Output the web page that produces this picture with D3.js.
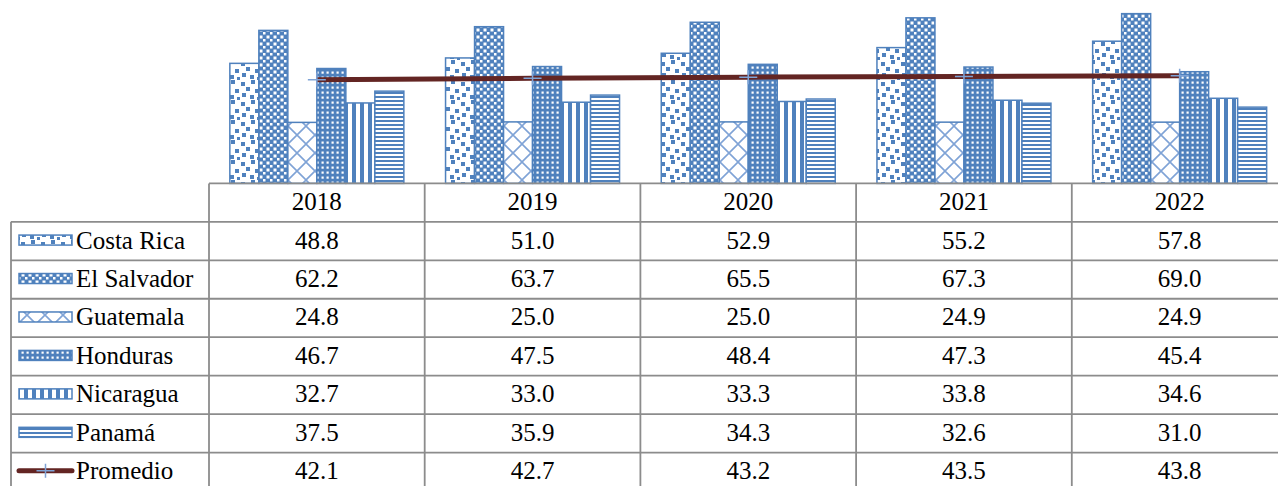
<!DOCTYPE html>
<meta charset="utf-8">
<style>
  body { margin: 0; background: #fff; }
  svg { display: block; }
  text { font-family: "Liberation Serif", "Times New Roman", Tinos, "DejaVu Serif", serif; }
</style>
<body>
<script src="https://cdn.jsdelivr.net/npm/d3@7"></script>
<script>
var years = ["2018", "2019", "2020", "2021", "2022"];
var countries = ["Costa Rica", "El Salvador", "Guatemala", "Honduras", "Nicaragua", "Panamá"];
var costaRica  = [48.8, 51.0, 52.9, 55.2, 57.8];
var elSalvador = [62.2, 63.7, 65.5, 67.3, 69.0];
var guatemala  = [24.8, 25.0, 25.0, 24.9, 24.9];
var honduras   = [46.7, 47.5, 48.4, 47.3, 45.4];
var nicaragua  = [32.7, 33.0, 33.3, 33.8, 34.6];
var panama     = [37.5, 35.9, 34.3, 32.6, 31.0];
var promedio   = [42.1, 42.7, 43.2, 43.5, 43.8];
var seriesLabel = "Promedio";

var barSeries = [costaRica, elSalvador, guatemala, honduras, nicaragua, panama];

var width = 1278, height = 486;
var blue = "#4f81bd";
var gridColor = "#8c8c8c";
var lineColor = "#632523";
var fontSize = 25;

var plotLeft = 209, plotRight = 1287.5;
var baseY = 183.4;
var rowH = 38.45;
var labelLeft = 11;

var svg = d3.select("body").append("svg")
  .attr("width", width)
  .attr("height", height);

// patterns
var defs = svg.append("defs");
function pat(id, w, h) {
  var p = defs.append("pattern")
    .attr("id", id)
    .attr("patternUnits", "userSpaceOnUse")
    .attr("width", w).attr("height", h);
  p.append("rect").attr("width", w).attr("height", h).attr("fill", "#fff");
  return p;
}
// large confetti
var p0 = pat("p0", 20, 20);
[[1,2],[11,0],[6,7],[15,9],[2,13],[10,15],[17,17]].forEach(function(c) {
  p0.append("rect").attr("x", c[0]).attr("y", c[1]).attr("width", 4).attr("height", 4).attr("fill", blue);
});
// checker
var p1 = pat("p1", 7, 7);
p1.append("rect").attr("width", 7).attr("height", 7).attr("fill", blue);
p1.append("rect").attr("x", 0.5).attr("y", 0.5).attr("width", 3).attr("height", 3).attr("fill", "#fff");
p1.append("rect").attr("x", 4).attr("y", 4).attr("width", 2.5).attr("height", 2.5).attr("fill", "#fff");
// outlined diamond
var p2 = pat("p2", 18, 18);
p2.append("path").attr("d", "M0,0L18,18M18,0L0,18M-9,9L0,18M9,-9L18,0")
  .attr("stroke", "#7fa3d6").attr("stroke-width", 1.6).attr("fill", "none");
// small grid of dots
var p3 = pat("p3", 5, 5);
p3.append("rect").attr("width", 5).attr("height", 5).attr("fill", blue);
p3.append("rect").attr("x", 1.5).attr("y", 1.5).attr("width", 2.2).attr("height", 2.2).attr("fill", "#fff");
// vertical stripes
var p4 = pat("p4", 8, 8);
p4.append("rect").attr("x", 0).attr("width", 4).attr("height", 8).attr("fill", blue);
// horizontal stripes
var p5 = pat("p5", 4, 4);
p5.append("rect").attr("y", 0).attr("width", 4).attr("height", 2).attr("fill", blue);

var fills = ["url(#p0)", "url(#p1)", "url(#p2)", "url(#p3)", "url(#p4)", "url(#p5)"];

// scales
var x0 = d3.scaleBand().domain(years).range([plotLeft, plotRight]);
var groupW = 174;
var x1 = d3.scaleBand().domain(countries)
  .range([(x0.bandwidth() - groupW) / 2, (x0.bandwidth() + groupW) / 2]);
var y = d3.scaleLinear().domain([0, 80]).range([baseY, baseY - 80 * 2.46]);

// bars
barSeries.forEach(function(vals, si) {
  svg.append("g").selectAll("rect")
    .data(vals)
    .enter()
    .append("rect")
    .attr("x", function(d, i) { return x0(years[i]) + x1(countries[si]); })
    .attr("y", function(d) { return y(d); })
    .attr("width", x1.bandwidth())
    .attr("height", function(d) { return y(0) - y(d); })
    .attr("fill", fills[si])
    .attr("stroke", blue)
    .attr("stroke-width", 1.5);
});

// promedio line
var line = d3.line()
  .x(function(d, i) { return x0(years[i]) + x0.bandwidth() / 2; })
  .y(function(d) { return y(d); });
svg.append("path")
  .datum(promedio)
  .attr("d", line)
  .attr("fill", "none")
  .attr("stroke", lineColor)
  .attr("stroke-width", 5);

function cross(g, cx, cy) {
  g.append("path")
    .attr("d", "M" + (cx - 9) + "," + cy + "H" + (cx + 9) + "M" + cx + "," + (cy - 7) + "V" + (cy + 7))
    .attr("stroke", "#7fa3d6")
    .attr("stroke-width", 1.5)
    .attr("fill", "none");
}
var mk = svg.append("g");
promedio.forEach(function(d, i) { cross(mk, x0(years[i]) + x0.bandwidth() / 2, y(d)); });

// data table
var rows = countries.concat([seriesLabel]);
var tableVals = barSeries.concat([promedio]);
var tg = svg.append("g");

function hline(x1_, x2_, yy) {
  tg.append("line").attr("x1", x1_).attr("x2", x2_).attr("y1", yy).attr("y2", yy)
    .attr("stroke", gridColor).attr("stroke-width", 1.8);
}
function vline(xx, y1_, y2_) {
  tg.append("line").attr("x1", xx).attr("x2", xx).attr("y1", y1_).attr("y2", y2_)
    .attr("stroke", gridColor).attr("stroke-width", 1.8);
}

hline(plotLeft, width, baseY);
for (var r = 1; r <= rows.length + 1; r++) hline(labelLeft, width, baseY + r * rowH);
vline(labelLeft, baseY + rowH, height + 10);
years.forEach(function(yr) { vline(x0(yr), baseY, height + 10); });

// header years
tg.selectAll("text.yr")
  .data(years)
  .enter()
  .append("text")
  .attr("class", "yr")
  .attr("x", function(d) { return x0(d) + x0.bandwidth() / 2; })
  .attr("y", baseY + rowH / 2 - 1)
  .attr("text-anchor", "middle")
  .attr("dominant-baseline", "central")
  .attr("font-size", fontSize + "px")
  .attr("fill", "#000")
  .text(function(d) { return d; });

// row labels and values
rows.forEach(function(name, ri) {
  var cy = baseY + (ri + 1.5) * rowH - 1;
  var sw = tg.append("g");
  if (ri < countries.length) {
    sw.append("rect")
      .attr("x", 19).attr("y", cy - 5).attr("width", 53).attr("height", 10)
      .attr("fill", fills[ri]).attr("stroke", blue).attr("stroke-width", 1.5);
  } else {
    sw.append("line").attr("x1", 19).attr("x2", 72).attr("y1", cy).attr("y2", cy)
      .attr("stroke", lineColor).attr("stroke-width", 5).attr("stroke-linecap", "round");
    cross(sw, 45.5, cy);
  }
  tg.append("text")
    .attr("x", 76)
    .attr("y", cy)
    .attr("dominant-baseline", "central")
    .attr("font-size", fontSize + "px")
    .attr("fill", "#000")
    .text(name);
  tg.selectAll(null)
    .data(tableVals[ri])
    .enter()
    .append("text")
    .attr("x", function(d, i) { return x0(years[i]) + x0.bandwidth() / 2; })
    .attr("y", cy)
    .attr("text-anchor", "middle")
    .attr("dominant-baseline", "central")
    .attr("font-size", fontSize + "px")
    .attr("fill", "#000")
    .text(function(d) { return d.toFixed(1); });
});
</script>
</body>
